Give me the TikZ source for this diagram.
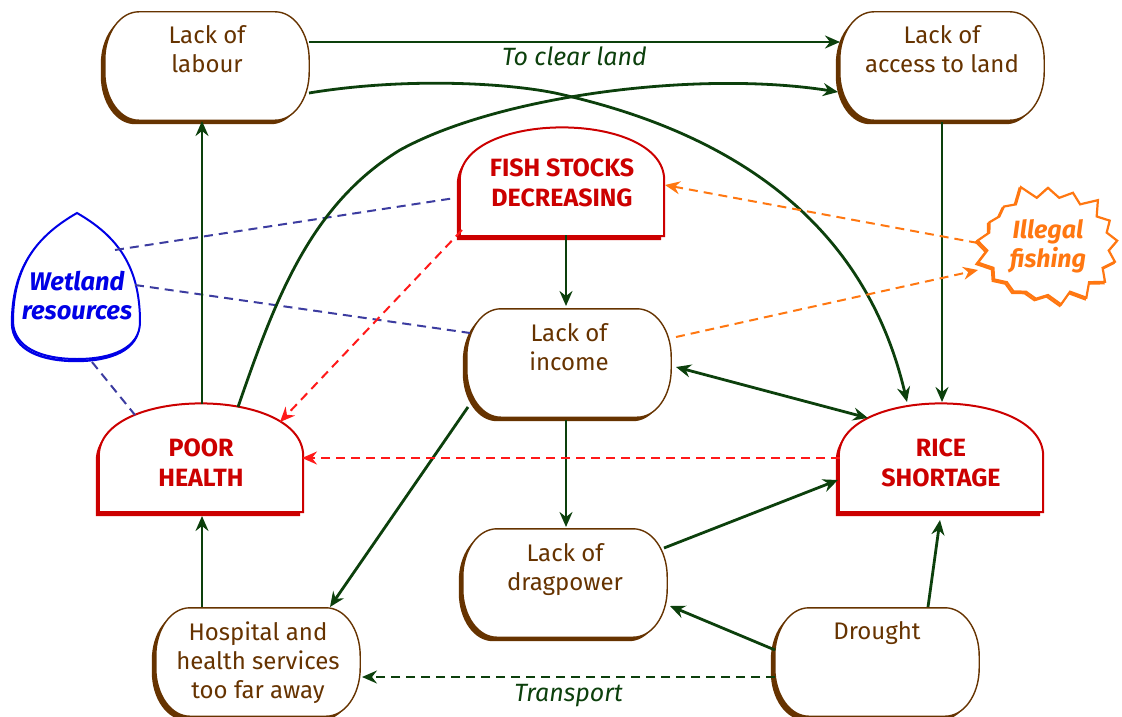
\documentclass[tikz,border=0pt]{standalone}
\usepackage{fontspec}
\setmainfont{Fira Sans}
\usetikzlibrary{arrows.meta,shapes.symbols,shadows,calc,backgrounds}
\definecolor{arrowgreen}{RGB}{12,64,12}
\definecolor{boxbrown}{RGB}{102,51,0}
\definecolor{alertred}{RGB}{204,0,0}
\definecolor{dashred}{RGB}{255,25,25}
\definecolor{fishorange}{RGB}{255,119,17}
\definecolor{wetblue}{RGB}{0,0,230}
\definecolor{linkblue}{RGB}{60,60,160}
\tikzset{
    causemap/.style={
        x=1pt, y=-1pt,
        >={Stealth[length=15pt,width=13pt,inset=5pt]},
    },
    boxnode/.style={
        minimum width=204pt, minimum height=108pt,
        inner xsep=4pt, inner ysep=14pt,
        text=boxbrown, font=\fontsize{24}{29}\selectfont,
    },
    domenode/.style={boxnode, text=alertred, font=\fontsize{25}{30}\selectfont\bfseries},
    burst/.style={
        starburst, starburst points=17, starburst point height=15pt,
        random starburst=5, draw=fishorange, fill=white, line width=2.2pt,
        copy shadow={shadow xshift=-1.5pt, shadow yshift=-1.5pt},
        align=center, text=fishorange, inner sep=0pt,
        minimum width=152pt, minimum height=128pt,
        font=\fontsize{25}{29}\selectfont\bfseries\itshape,
    },
    wetnode/.style={align=center, inner sep=0pt, text=wetblue,
        font=\fontsize{25.5}{29}\selectfont\bfseries\itshape},
    link/.style={arrowgreen, line width=2.8pt, ->},
    greendash/.style={arrowgreen, line width=2pt, dash pattern=on 9pt off 6pt, ->},
    reddash/.style={dashred, line width=2pt, dash pattern=on 9pt off 6pt, ->},
    orangedash/.style={fishorange, line width=2pt, dash pattern=on 9pt off 6pt, ->},
    bluedash/.style={linkblue, line width=2pt, dash pattern=on 9pt off 6pt},
    linklabel/.style={text=arrowgreen, font=\fontsize{25}{29}\selectfont\itshape},
}
\newcommand\toptext[2][0pt]{\parbox[c][80pt][t]{196pt}{\vspace*{#1}\centering #2}}
\newcommand\boxpath[1]{($(#1.north west)+(34,0)$) -- ($(#1.north east)+(-34,0)$)
    arc[start angle=90, end angle=0, x radius=34pt, y radius=48pt]
    -- ($(#1.south east)+(0,-48)$)
    arc[start angle=0, end angle=-90, x radius=34pt, y radius=48pt]
    -- ($(#1.south west)+(34,0)$)
    arc[start angle=-90, end angle=-180, x radius=34pt, y radius=48pt]
    -- ($(#1.north west)+(0,48)$)
    arc[start angle=180, end angle=90, x radius=34pt, y radius=48pt] -- cycle}
\newcommand\domepath[1]{(#1.south west) -- ($(#1.south west)+(0,-56)$)
    .. controls ($(#1.north west)+(0,-18)$) and ($(#1.north east)+(0,-18)$)
    .. ($(#1.south east)+(0,-56)$) -- (#1.south east) -- cycle}
\newcommand\droppath[1]{($(#1)+(0,-83)$) .. controls ($(#1)+(-40,-60)$) and ($(#1)+(-64,-30)$)
    .. ($(#1)+(-64,26)$) .. controls ($(#1)+(-63,52)$) and ($(#1)+(-35,63)$)
    .. ($(#1)+(0,63)$) .. controls ($(#1)+(35,63)$) and ($(#1)+(63,52)$)
    .. ($(#1)+(63,26)$) .. controls ($(#1)+(63,-30)$) and ($(#1)+(40,-60)$)
    .. cycle}

\begin{document}
\begin{tikzpicture}[causemap]
    \useasboundingbox (0,0) rectangle (1122,717);
    \node[boxnode] (labour) at (207,66) {\toptext{Lack of\\labour}};
    \node[boxnode] (access) at (942,66) {\toptext{Lack of\\access to land}};
    \node[domenode] (fish) at (562,182) {\toptext[17pt]{FISH STOCKS\\DECREASING}};
    \node[boxnode] (income) at (569,363) {\toptext{Lack of\\income}};
    \node[domenode] (poor) at (201,458) {\toptext[21pt]{POOR\\HEALTH}};
    \node[domenode] (rice) at (941,458) {\toptext[21pt]{RICE\\SHORTAGE}};
    \node[boxnode] (drag) at (565,583) {\toptext{Lack of\\dragpower}};
    \node[boxnode] (hosp) at (258,662) {\toptext{Hospital and\\health services\\too far away}};
    \node[boxnode] (drought) at (877,662) {\toptext{Drought}};
    \node[burst] (illegal) at (1048,246) {Illegal\\fishing};
    \node[wetnode] (wetland) at (77,296) {Wetland\\resources};

    \begin{scope}[on background layer]
        \foreach \n in {labour,access,income,drag,hosp,drought} {
            \fill[boxbrown, transform canvas={xshift=-4pt,yshift=-4pt}] \boxpath{\n};
            \filldraw[fill=white, draw=boxbrown, line width=1.4pt] \boxpath{\n};
        }
        \foreach \n in {fish,poor,rice} {
            \fill[alertred, transform canvas={xshift=-3pt,yshift=-4pt}] \domepath{\n};
            \filldraw[fill=white, draw=alertred, line width=2pt] \domepath{\n};
        }
        \draw[wetblue, line width=2.4pt, transform canvas={xshift=-1pt,yshift=-2pt}] \droppath{wetland};
        \filldraw[fill=white, draw=wetblue, line width=2pt] \droppath{wetland};
    \end{scope}

    \draw[bluedash] ($(wetland)+(38,-46)$) -- ($(fish)+(-107,16)$);
    \draw[bluedash] ($(wetland)+(58,-11)$) -- ($(income)+(-99,-30)$);
    \draw[bluedash] ($(wetland)+(15,66)$) -- ($(poor)+(-66,-43)$);

    \draw[link] ($(labour)+(102,-24)$) -- ($(access)+(-102,-24)$)
        node[midway, below, linklabel] {To clear land};
    \draw[link] ($(labour)+(102,27)$) .. controls (400,78) and (500,82) .. (555,93)
        .. controls (700,125) and (860,200) .. ($(rice)+(-34,-56)$);
    \draw[link] ($(poor)+(37,-51)$) .. controls (275,300) and (310,205) .. (400,150)
        .. controls (500,95) and (700,70) .. ($(access)+(-104,26)$);
    \draw[link] ($(poor)+(1,-54)$) -- ($(labour)+(-5,55)$);
    \draw[link] ($(access)+(0,56)$) -- ($(rice)+(1,-56)$);
    \draw[link] ($(fish)+(4,53)$) -- ($(income)+(-3,-57)$);
    \draw[link, <->] ($(income)+(107,4)$) -- ($(rice)+(-73,-40)$);
    \draw[link] ($(income)+(-3,57)$) -- ($(drag)+(1,-56)$);
    \draw[link] ($(income)+(-101,44)$) -- ($(hosp)+(72,-55)$);
    \draw[link] ($(drag)+(99,-35)$) -- ($(rice)+(-103,22)$);
    \draw[link] ($(drought)+(-102,-12)$) -- ($(drag)+(105,23)$);
    \draw[link] ($(drought)+(51,-55)$) -- ($(rice)+(-1,62)$);
    \draw[link] ($(hosp)+(-56,-55)$) -- ($(poor)+(1,58)$);
    \draw[greendash] ($(drought)+(-102,15)$) -- ($(hosp)+(104,15)$)
        node[midway, below=3pt, linklabel] {Transport};

    \draw[reddash] ($(rice)+(-101,0)$) -- ($(poor)+(101,0)$);
    \draw[reddash] ($(fish)+(-100,48)$) -- ($(poor)+(79,-36)$);
    \draw[orangedash] ($(illegal)+(-70,-3)$) -- ($(fish)+(103,3)$);
    \draw[orangedash] ($(income)+(107,-26)$) -- ($(illegal)+(-70,24)$);
\end{tikzpicture}
\end{document}
